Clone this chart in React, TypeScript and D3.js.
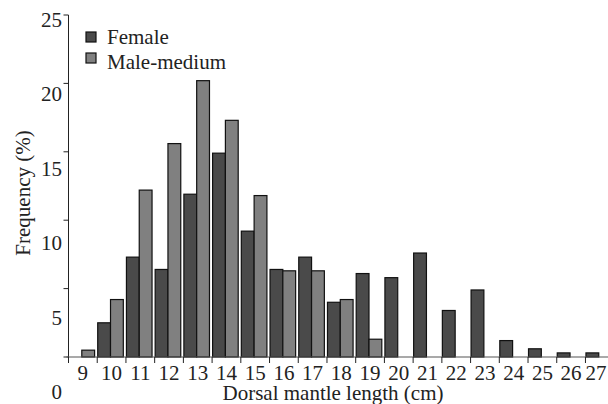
import React from "react";
import * as d3 from "d3";

// Dorsal mantle length classes (cm)
const sizeClasses = ["9","10","11","12","13","14","15","16","17","18","19","20","21","22","23","24","25","26","27"];
// Frequency (%) per length class
const femaleFreq = [0, 2.5, 7.3, 6.4, 11.9, 14.9, 9.2, 6.4, 7.3, 4.0, 6.1, 5.8, 7.6, 3.4, 4.9, 1.2, 0.6, 0.3, 0.3];
const maleMediumFreq = [0.5, 4.2, 12.2, 15.6, 20.2, 17.3, 11.8, 6.3, 6.3, 4.2, 1.3, 0, 0, 0, 0, 0, 0, 0, 0];
const seriesNames = ["Female", "Male-medium"];
const yTicks = [0, 5, 10, 15, 20, 25];

const W = 608;
const H = 404;
const FONT = "Liberation Serif, Times New Roman, Times, serif";
const COLORS: Record<string, string> = { Female: "#4a4a4a", "Male-medium": "#808080" };

export default function App() {
  const x0 = 68.5;
  const step = 28.72;
  const x = d3.scaleBand<string>().domain(sizeClasses).range([x0, x0 + step * sizeClasses.length]).padding(0);
  const inner = d3.scaleBand<string>().domain(seriesNames).range([0.5, 26.1]).padding(0);
  const y = d3.scaleLinear().domain([0, 25]).range([357, 15]);
  const yLabel = d3.scaleLinear().domain([0, 25]).range([399, 27]);

  const rows = sizeClasses.map((c, i) => ({
    c,
    values: [
      { key: "Female", v: femaleFreq[i] },
      { key: "Male-medium", v: maleMediumFreq[i] },
    ],
  }));

  const textStyle = { fontFamily: FONT, fontSize: 21, fill: "#222" } as React.CSSProperties;

  return (
    <svg
      width={W}
      height={H}
      style={{ position: "absolute", left: 0, top: 0, background: "#fff" }}
    >
      {/* bars */}
      {rows.map((r) =>
        r.values
          .filter((d) => d.v > 0)
          .map((d) => (
            <rect
              key={r.c + d.key}
              x={(x(r.c) as number) + (inner(d.key) as number)}
              y={y(d.v)}
              width={inner.bandwidth()}
              height={y(0) - y(d.v)}
              fill={COLORS[d.key]}
              stroke="#111"
              strokeWidth={1.2}
            />
          ))
      )}

      {/* y axis */}
      <line x1={x0} x2={x0} y1={y(25)} y2={y(0)} stroke="#222" strokeWidth={1} />
      {yTicks.map((t) => (
        <g key={t}>
          <line x1={x0 - 5} x2={x0} y1={y(t)} y2={y(t)} stroke="#222" strokeWidth={1} />
          <text x={62} y={yLabel(t)} textAnchor="end" style={textStyle}>
            {t}
          </text>
        </g>
      ))}

      {/* x axis */}
      <line x1={x0 - 2} x2={W} y1={y(0)} y2={y(0)} stroke="#555" strokeWidth={1.2} />
      {sizeClasses.map((c) => (
        <g key={c}>
          <line x1={x(c)} x2={x(c)} y1={y(0)} y2={y(0) + 6} stroke="#222" strokeWidth={1} />
          <text
            x={Math.min((x(c) as number) + x.bandwidth() / 2, W - 12)}
            y={380}
            textAnchor="middle"
            style={textStyle}
          >
            {c}
          </text>
        </g>
      ))}

      {/* axis titles */}
      <text x={333} y={400} textAnchor="middle" style={textStyle}>
        Dorsal mantle length (cm)
      </text>
      <text transform="translate(30,193) rotate(-90)" textAnchor="middle" style={textStyle}>
        Frequency (%)
      </text>

      {/* legend */}
      {seriesNames.map((s, i) => (
        <g key={s}>
          <rect x={86} y={32 + i * 21} width={10} height={10} fill={COLORS[s]} stroke="#111" strokeWidth={1.2} />
          <text x={107} y={44 + i * 25} style={textStyle}>
            {s}
          </text>
        </g>
      ))}
    </svg>
  );
}
